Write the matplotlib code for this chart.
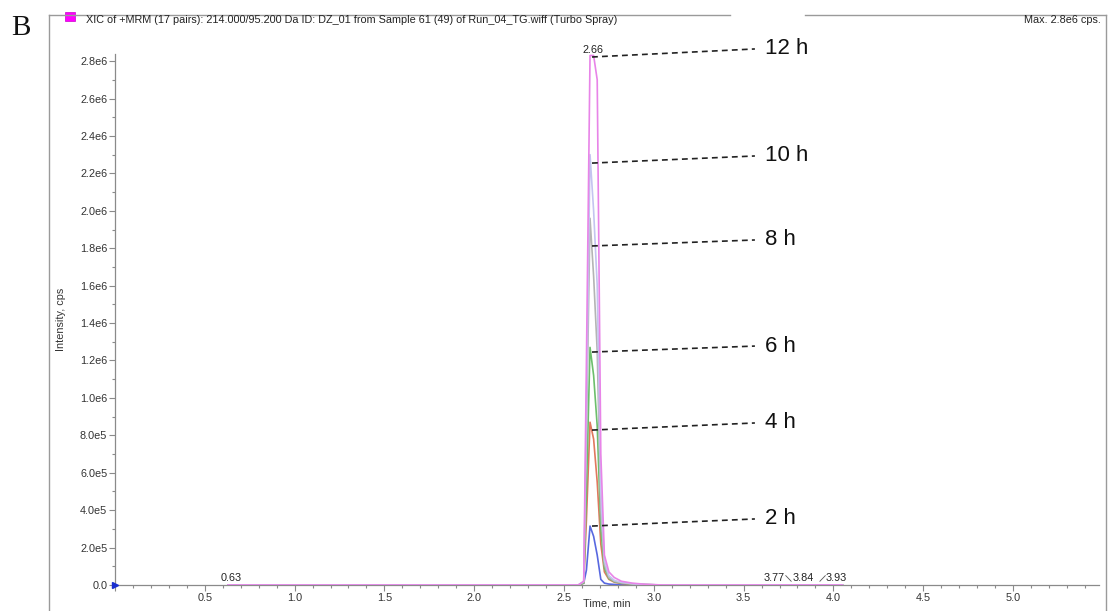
import matplotlib
matplotlib.use("Agg")
import matplotlib.pyplot as plt
from matplotlib.lines import Line2D
from matplotlib.patches import Rectangle
from matplotlib.ticker import MultipleLocator, FuncFormatter

plt.rcParams["font.family"] = ["Liberation Sans", "DejaVu Sans"]

# ── Data (intensity in units of 1e6 cps) ──────────────────────────────────────
time_min = [0.63, 2.58, 2.61, 2.625, 2.645, 2.665, 2.685, 2.705, 2.725, 2.75,
            2.78, 2.82, 2.88, 2.95, 3.05, 3.77, 3.84, 3.93, 4.05]

int_2h  = [0, 0, 0.010, 0.08, 0.315, 0.26, 0.16, 0.03, 0.010, 0.005, 0.003, 0.002, 0.001, 0, 0, 0, 0, 0, 0]
int_4h  = [0, 0, 0.010, 0.35, 0.87, 0.78, 0.55, 0.22, 0.07, 0.030, 0.015, 0.008, 0.004, 0.002, 0, 0, 0, 0, 0]
int_6h  = [0, 0, 0.010, 0.50, 1.27, 1.12, 0.85, 0.30, 0.09, 0.035, 0.018, 0.010, 0.005, 0.002, 0, 0, 0, 0, 0]
int_8h  = [0, 0, 0.015, 0.80, 1.96, 1.65, 1.25, 0.40, 0.11, 0.040, 0.020, 0.012, 0.006, 0.002, 0, 0, 0, 0, 0]
int_10h = [0, 0, 0.020, 0.95, 2.30, 2.00, 1.60, 0.50, 0.13, 0.050, 0.025, 0.014, 0.007, 0.003, 0, 0, 0, 0, 0]
int_12h = [0, 0, 0.020, 1.20, 2.83, 2.83, 2.70, 0.70, 0.16, 0.070, 0.040, 0.020, 0.010, 0.004, 0, 0, 0, 0, 0]

series_labels = ["2 h", "4 h", "6 h", "8 h", "10 h", "12 h"]
series_values = [int_2h, int_4h, int_6h, int_8h, int_10h, int_12h]
series_colors = ["#5868e0", "#e0785e", "#6cbf6c", "#b4b4b4", "#c4c4f0", "#e884e8"]

# callout anchors: (y at peak, y at label) in 1e6 cps
callout_start = [0.315, 0.828, 1.245, 1.812, 2.255, 2.822]
callout_end   = [0.353, 0.866, 1.277, 1.844, 2.293, 2.865]

apex_labels = [(0.63, "0.63"), (2.66, "2.66"), (3.77, "3.77"), (3.84, "3.84"), (3.93, "3.93")]

title = ("XIC of +MRM (17 pairs): 214.000/95.200 Da ID: DZ_01 from Sample 61 (49) "
         "of Run_04_TG.wiff (Turbo Spray)")

FS = 7.8

# ── Figure ────────────────────────────────────────────────────────────────────
W, H = 1108, 611
fig = plt.figure(figsize=(W / 100, H / 100), dpi=100)
fig.patch.set_facecolor("white")

def px(x, y):
    return x / W, 1 - y / H

ax = fig.add_axes([115 / W, (H - 585) / H, 984 / W, 531 / H])
for lab, vals, col in zip(series_labels, series_values, series_colors):
    ax.plot(time_min, vals, color=col, lw=1.2, zorder=3)

ax.set_xlim(0, 5.479)
ax.set_ylim(0, 2.838)

for s in ["top", "right"]:
    ax.spines[s].set_visible(False)
for s in ["left", "bottom"]:
    ax.spines[s].set_color("#8a8a8a")
    ax.spines[s].set_linewidth(0.9)

ax.xaxis.set_major_locator(MultipleLocator(0.5))
ax.xaxis.set_minor_locator(MultipleLocator(0.1))
ax.yaxis.set_major_locator(MultipleLocator(0.2))
ax.yaxis.set_minor_locator(MultipleLocator(0.1))
ax.xaxis.set_major_formatter(FuncFormatter(lambda v, p: "" if v < 0.01 else f"{v:.1f}"))

def yfmt(v, p):
    if v < 0.01:
        return "0.0"
    val = v * 1e6
    if val < 1e6 - 1:
        return f"{val / 1e5:.1f}e5"
    return f"{val / 1e6:.1f}e6"

ax.yaxis.set_major_formatter(FuncFormatter(yfmt))
ax.tick_params(which="both", colors="#8a8a8a", labelcolor="#333333", labelsize=FS, pad=1.5)
ax.tick_params(which="major", length=4, width=0.8)
ax.tick_params(which="minor", length=2.5, width=0.8)

ax.set_xlabel("Time, min", fontsize=FS, color="#333333")
ax.xaxis.set_label_coords(0.5, -0.026)
ax.set_ylabel("Intensity, cps", fontsize=FS, color="#333333")
ax.yaxis.set_label_coords(-0.050, 0.5)

# start marker on the y axis
ax.plot([0], [0], marker=">", color="#1a2fd0", markersize=5, clip_on=False, zorder=5)

# apex labels
for t, txt in apex_labels:
    if txt == "2.66":
        ax.text(t, 2.835, txt, fontsize=FS, ha="center", va="bottom", color="#222222")
    elif txt == "3.77":
        ax.text(t - 0.1, 0.012, txt, fontsize=FS, ha="center", va="bottom", color="#222222")
        ax.plot([t - 0.035, t - 0.005], [0.05, 0.02], color="#555555", lw=0.6)
    elif txt == "3.93":
        ax.text(t + 0.085, 0.012, txt, fontsize=FS, ha="center", va="bottom", color="#222222")
        ax.plot([t - 0.005, t + 0.025], [0.02, 0.05], color="#555555", lw=0.6)
    elif txt == "3.84":
        ax.text(t - 0.01, 0.012, txt, fontsize=FS, ha="center", va="bottom", color="#222222")
    else:
        ax.text(t + 0.015, 0.012, txt, fontsize=FS, ha="center", va="bottom", color="#222222")

# dashed callouts with time-point labels
for lab, y0, y1 in zip(series_labels, callout_start, callout_end):
    ax.plot([2.656, 3.563], [y0, y1], color="#222222", lw=1.2, ls=(0, (3.5, 2.5)),
            clip_on=False, zorder=6)
    ax.text(3.62, y1, lab, fontsize=16, ha="left", va="center", color="#111111")

# ── Outer frame, header and panel letter ──────────────────────────────────────
frame_col = "#9a9a9a"
fig.add_artist(Line2D([px(49, 0)[0], px(49, 0)[0]], [px(0, 15)[1], 0], color=frame_col, lw=1.0))
fig.add_artist(Line2D([px(1106, 0)[0], px(1106, 0)[0]], [px(0, 15)[1], 0], color=frame_col, lw=1.0))
fig.add_artist(Line2D([px(49, 0)[0], px(730, 0)[0]], [px(0, 15)[1]] * 2, color=frame_col, lw=1.0))
fig.add_artist(Line2D([px(805, 0)[0], px(1106, 0)[0]], [px(0, 15)[1]] * 2, color=frame_col, lw=1.0))

x0, y0 = px(65, 21)
fig.add_artist(Rectangle((x0, y0), 10 / W, 9 / H, transform=fig.transFigure,
                         facecolor="#ff00ff", edgecolor="#cc00cc", lw=0.5))
fig.text(*px(86, 20), title, fontsize=FS, ha="left", va="center", color="#222222")
fig.text(*px(1101, 20), "Max. 2.8e6 cps.", fontsize=FS, ha="right", va="center", color="#222222")
fig.text(*px(11, 28), "B", fontsize=21, ha="left", va="center",
         family=["Liberation Serif", "DejaVu Serif"], color="#111111")

fig.savefig("out.png", dpi=100, facecolor="white")
